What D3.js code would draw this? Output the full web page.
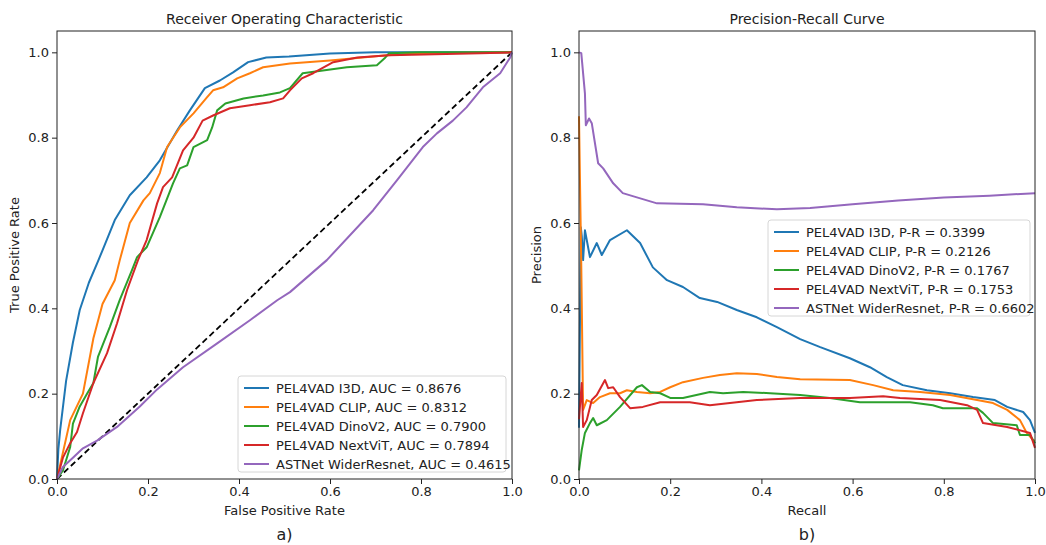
<!DOCTYPE html>
<html>
<head>
<meta charset="utf-8">
<script src="https://cdn.jsdelivr.net/npm/d3@7"></script>
<style>
  body { margin: 0; background: #fff; }
  text { font-family: "DejaVu Sans", sans-serif; fill: #222; }
</style>
</head>
<body>
<svg id="chart" width="1046" height="545"></svg>
<script>
let names = ["PEL4VAD I3D", "PEL4VAD CLIP", "PEL4VAD DinoV2", "PEL4VAD NextViT", "ASTNet WiderResnet"]
let colors = ["#1f77b4", "#ff7f0e", "#2ca02c", "#d62728", "#9467bd"]
let aucScores = ["0.8676", "0.8312", "0.7900", "0.7894", "0.4615"]
let prScores = ["0.3399", "0.2126", "0.1767", "0.1753", "0.6602"]
let ticks = [0, 0.2, 0.4, 0.6, 0.8, 1.0]

// ROC curves, [fpr, tpr]
let rocI3D = [[0,0],[0.003,0.07],[0.007,0.115],[0.02,0.23],[0.035,0.32],[0.05,0.396],[0.07,0.46],[0.09,0.51],[0.10,0.536],
  [0.127,0.607],[0.16,0.665],[0.197,0.707],[0.226,0.747],[0.264,0.817],[0.292,0.864],[0.325,0.916],[0.358,0.934],
  [0.387,0.953],[0.42,0.977],[0.46,0.988],[0.51,0.99],[0.6,0.997],[0.7,1.0],[1,1]]
let rocCLIP = [[0,0],[0.029,0.138],[0.057,0.2],[0.08,0.33],[0.10,0.41],[0.127,0.466],[0.138,0.513],[0.16,0.6],[0.19,0.653],
  [0.204,0.67],[0.226,0.717],[0.242,0.778],[0.27,0.824],[0.30,0.857],[0.33,0.895],[0.343,0.911],[0.365,0.918],[0.396,0.939],
  [0.424,0.951],[0.453,0.965],[0.512,0.974],[0.60,0.981],[0.725,0.993],[0.8,0.998],[1,1]]
let rocDino = [[0,0],[0.013,0.02],[0.029,0.075],[0.035,0.13],[0.05,0.17],[0.066,0.2],[0.08,0.225],[0.09,0.286],[0.116,0.356],
  [0.138,0.42],[0.165,0.49],[0.176,0.52],[0.197,0.543],[0.226,0.614],[0.255,0.693],[0.27,0.728],[0.286,0.735],[0.30,0.778],
  [0.33,0.794],[0.341,0.824],[0.352,0.864],[0.37,0.88],[0.41,0.892],[0.453,0.899],[0.49,0.906],[0.512,0.916],[0.54,0.951],
  [0.637,0.965],[0.703,0.97],[0.72,0.986],[0.73,0.998],[0.8,1.0],[1,1]]
let rocNext = [[0,0],[0.013,0.05],[0.029,0.084],[0.044,0.11],[0.057,0.154],[0.08,0.225],[0.11,0.295],[0.132,0.365],[0.154,0.443],
  [0.178,0.513],[0.197,0.56],[0.22,0.646],[0.233,0.684],[0.253,0.707],[0.277,0.77],[0.30,0.80],[0.32,0.84],[0.343,0.852],
  [0.38,0.869],[0.424,0.876],[0.468,0.883],[0.497,0.892],[0.512,0.911],[0.538,0.939],[0.563,0.951],[0.607,0.977],
  [0.66,0.988],[0.73,0.993],[0.93,0.998],[1,1]]
let rocAST = [[0,0],[0.013,0.028],[0.035,0.05],[0.057,0.072],[0.088,0.09],[0.132,0.122],[0.182,0.17],[0.22,0.21],[0.277,0.262],
  [0.352,0.318],[0.424,0.372],[0.484,0.419],[0.512,0.438],[0.593,0.513],[0.695,0.63],[0.747,0.70],[0.804,0.778],
  [0.835,0.81],[0.87,0.84],[0.90,0.871],[0.936,0.918],[0.974,0.951],[0.996,0.988],[1,1]]

// precision-recall curves, [recall, precision]
let prI3D = [[0,0.12],[0.004,0.59],[0.006,0.57],[0.009,0.513],[0.013,0.583],[0.024,0.52],[0.039,0.553],[0.05,0.525],[0.068,0.56],
  [0.105,0.583],[0.134,0.553],[0.162,0.496],[0.193,0.466],[0.228,0.45],[0.265,0.424],[0.303,0.415],[0.346,0.396],[0.39,0.379],
  [0.434,0.356],[0.485,0.328],[0.529,0.309],[0.594,0.283],[0.638,0.262],[0.675,0.239],[0.71,0.22],[0.763,0.208],[0.814,0.201],
  [0.864,0.192],[0.912,0.185],[0.939,0.169],[0.974,0.157],[0.989,0.138],[1.0,0.108]]
let prCLIP = [[0,0.85],[0.005,0.5],[0.009,0.162],[0.017,0.185],[0.031,0.178],[0.046,0.192],[0.068,0.201],[0.09,0.201],[0.105,0.208],
  [0.127,0.204],[0.156,0.201],[0.178,0.204],[0.2,0.215],[0.228,0.227],[0.272,0.237],[0.309,0.244],[0.346,0.248],[0.39,0.246],
  [0.434,0.239],[0.485,0.234],[0.594,0.232],[0.645,0.22],[0.689,0.208],[0.748,0.204],[0.814,0.197],[0.873,0.185],[0.908,0.178],
  [0.939,0.162],[0.967,0.138],[0.982,0.108],[0.996,0.091],[1.0,0.09]]
let prDino = [[0,0.02],[0.006,0.068],[0.013,0.108],[0.024,0.131],[0.031,0.143],[0.039,0.126],[0.061,0.138],[0.09,0.169],
  [0.127,0.215],[0.138,0.22],[0.156,0.204],[0.178,0.201],[0.2,0.19],[0.228,0.19],[0.287,0.204],[0.316,0.201],[0.36,0.204],
  [0.419,0.201],[0.485,0.197],[0.55,0.19],[0.616,0.18],[0.726,0.18],[0.776,0.173],[0.798,0.166],[0.873,0.166],[0.886,0.155],
  [0.908,0.131],[0.96,0.126],[0.967,0.103],[0.989,0.103],[1.0,0.084]]
let prNext = [[0,0.14],[0.006,0.225],[0.009,0.122],[0.017,0.138],[0.028,0.185],[0.039,0.197],[0.057,0.232],[0.064,0.213],
  [0.075,0.215],[0.09,0.192],[0.112,0.166],[0.14,0.169],[0.178,0.18],[0.2,0.18],[0.243,0.18],[0.287,0.173],[0.331,0.178],
  [0.39,0.185],[0.485,0.19],[0.594,0.19],[0.667,0.194],[0.704,0.19],[0.792,0.185],[0.851,0.173],[0.873,0.162],[0.886,0.131],
  [0.939,0.122],[0.989,0.108],[1.0,0.073]]
let prAST = [[0,1.0],[0.005,0.998],[0.013,0.904],[0.015,0.829],[0.022,0.845],[0.028,0.834],[0.042,0.74],[0.053,0.728],
  [0.075,0.693],[0.096,0.67],[0.127,0.66],[0.171,0.646],[0.272,0.644],[0.346,0.637],[0.434,0.632],[0.507,0.635],[0.6,0.644],
  [0.7,0.653],[0.8,0.66],[0.9,0.664],[1.0,0.67]]

let rocData = [rocI3D, rocCLIP, rocDino, rocNext, rocAST]
let prData = [prI3D, prCLIP, prDino, prNext, prAST]

let svg = d3.select("#chart")

let makePanel = (opts) => {
    let x = d3.scaleLinear().domain([0, 1]).range([opts.left, opts.right])
    let y = d3.scaleLinear().domain([0, 1.05]).range([479, 31])
    let g = svg.append("g")

    // title
    g.append("text")
        .attr("x", (opts.left + opts.right) / 2).attr("y", 24)
        .attr("text-anchor", "middle").style("font-size", "14px")
        .text(opts.title)

    let line = d3.line().x(d => x(d[0])).y(d => y(d[1]))

    if (opts.diagonal) {
        g.append("path")
            .datum([[0, 0], [1, 1]])
            .attr("d", line)
            .attr("fill", "none").attr("stroke", "#000")
            .attr("stroke-width", 1.8).attr("stroke-dasharray", "6,3.5")
    }

    opts.data.forEach((d, i) => {
        g.append("path")
            .datum(d)
            .attr("d", line)
            .attr("fill", "none")
            .attr("stroke", colors[i])
            .attr("stroke-width", 2)
            .attr("stroke-linejoin", "round")
    })

    // axes
    let xAxis = g.append("g").attr("transform", "translate(0,479)")
        .call(d3.axisBottom(x).tickValues(ticks).tickFormat(d3.format(".1f")).tickSizeOuter(0).tickSize(5).tickPadding(3))
    let yAxis = g.append("g").attr("transform", "translate(" + opts.left + ",0)")
        .call(d3.axisLeft(y).tickValues(ticks).tickFormat(d3.format(".1f")).tickSizeOuter(0).tickSize(5).tickPadding(3))
    ;[xAxis, yAxis].forEach(a => {
        a.select(".domain").remove()
        a.selectAll("text").style("font-size", "13px").style("font-family", "DejaVu Sans").attr("fill", "#222")
        a.selectAll("line").attr("stroke", "#222")
    })

    // frame
    g.append("rect")
        .attr("x", opts.left).attr("y", 31)
        .attr("width", opts.right - opts.left).attr("height", 448)
        .attr("fill", "none").attr("stroke", "#222").attr("stroke-width", 1)

    // axis labels
    g.append("text")
        .attr("x", (opts.left + opts.right) / 2).attr("y", 515)
        .attr("text-anchor", "middle").style("font-size", "13px")
        .text(opts.xLabel)
    g.append("text")
        .attr("transform", "translate(" + (opts.left - 38) + ",255) rotate(-90)")
        .attr("text-anchor", "middle").style("font-size", "13px")
        .text(opts.yLabel)
    g.append("text")
        .attr("x", (opts.left + opts.right) / 2).attr("y", 540)
        .attr("text-anchor", "middle").style("font-size", "16px")
        .text(opts.letter)

    // legend
    let lg = g.append("g").attr("transform", "translate(" + opts.legX + "," + opts.legY + ")")
    lg.append("rect")
        .attr("width", opts.legW).attr("height", 96).attr("rx", 3)
        .attr("fill", "#fff").attr("fill-opacity", 0.85)
        .attr("stroke", "#d6d6d6")
    names.forEach((n, i) => {
        let yy = 12 + i * 19
        lg.append("line")
            .attr("x1", 6).attr("x2", 31).attr("y1", yy).attr("y2", yy)
            .attr("stroke", colors[i]).attr("stroke-width", 2)
        lg.append("text")
            .attr("x", 38).attr("y", yy + 5)
            .style("font-size", "13px")
            .text(n + ", " + opts.scoreLabel + " = " + opts.scores[i])
    })
}

makePanel({
    left: 57, right: 512, title: "Receiver Operating Characteristic",
    data: rocData, diagonal: true,
    xLabel: "False Positive Rate", yLabel: "True Positive Rate", letter: "a)",
    legX: 238, legY: 376, legW: 268, scoreLabel: "AUC", scores: aucScores
})
makePanel({
    left: 579, right: 1035, title: "Precision-Recall Curve",
    data: prData, diagonal: false,
    xLabel: "Recall", yLabel: "Precision", letter: "b)",
    legX: 768, legY: 220, legW: 262, scoreLabel: "P-R", scores: prScores
})
</script>
</body>
</html>
